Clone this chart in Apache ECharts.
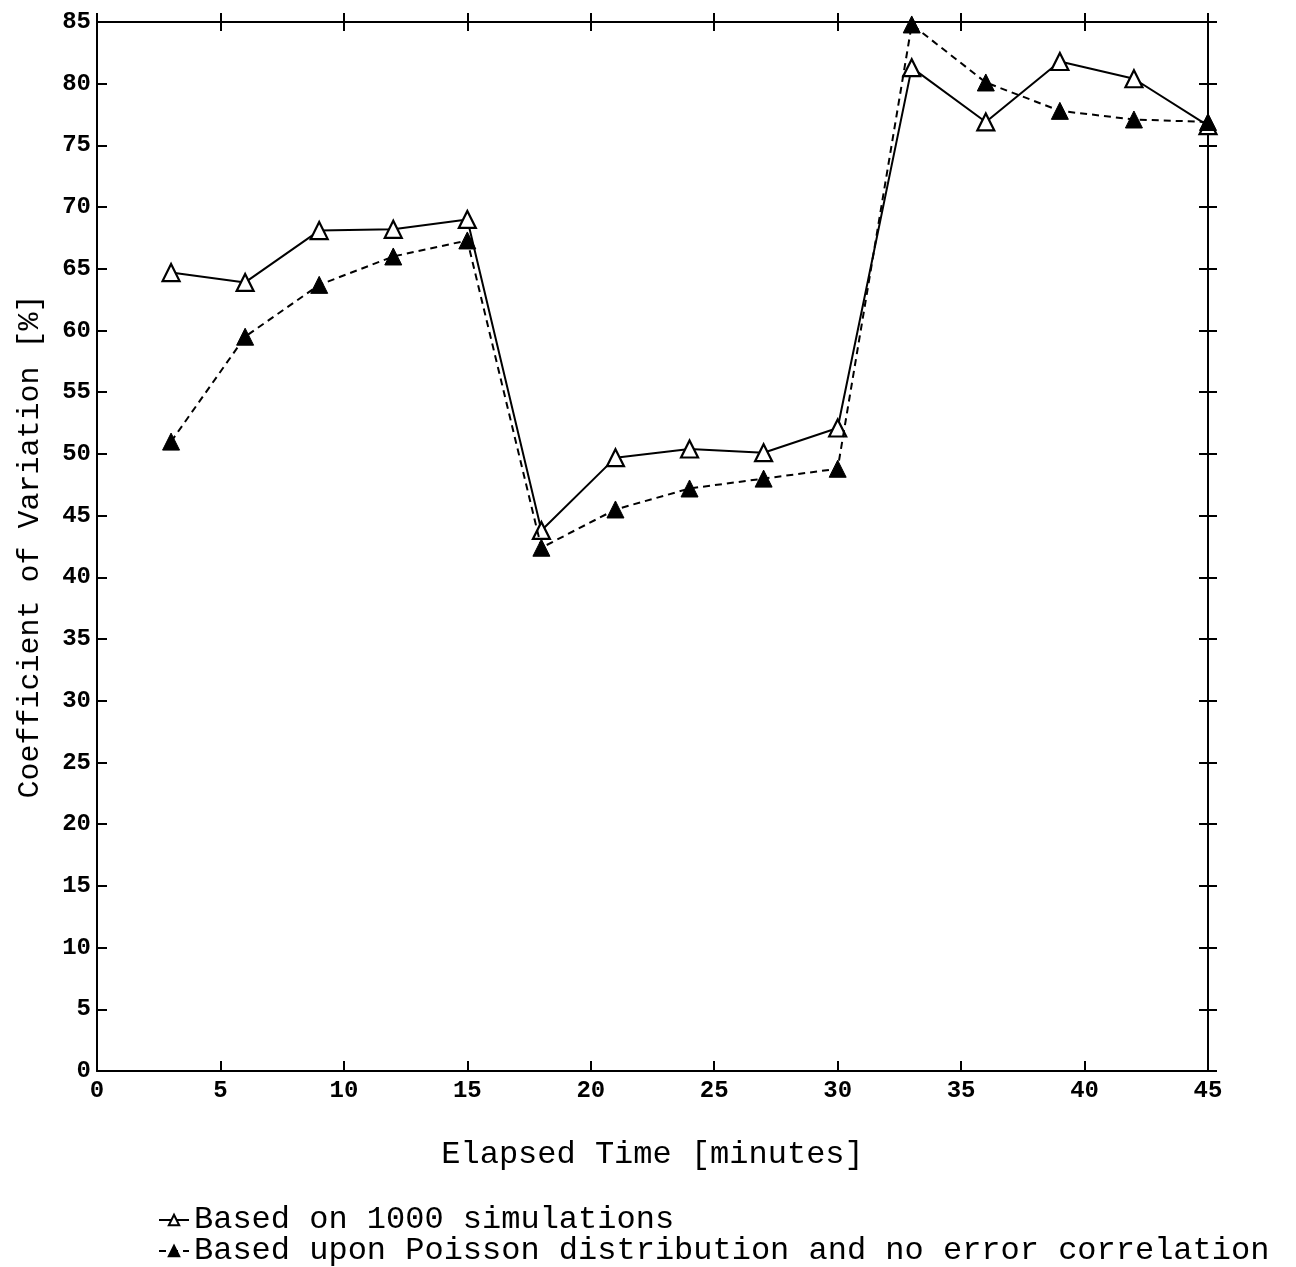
<!DOCTYPE html>
<html><head><meta charset="utf-8">
<script src="https://cdn.jsdelivr.net/npm/echarts@6/dist/echarts.min.js"></script>
<style>html,body{margin:0;padding:0;background:#fff}#c{width:1296px;height:1267px}</style>
</head><body><div id="c"></div>
<script>
const times = [3,6,9,12,15,18,21,24,27,30,33,36,39,42,45];
const simValues = [64.7,63.9,68.1,68.2,69.0,43.8,49.7,50.4,50.1,52.1,81.3,76.9,81.8,80.4,76.6];
const poissonValues = [51.0,59.5,63.7,66.0,67.3,42.4,45.5,47.2,48.0,48.8,84.8,80.1,77.8,77.1,76.9];
const seriesNames = ['Based on 1000 simulations','Based upon Poisson distribution and no error correlation'];
const xTitle = 'Elapsed Time [minutes]';
const yTitle = 'Coefficient of Variation [%]';

const FONT = '"Liberation Mono","Courier New",monospace';
const grid = {left:97, right:88, top:22, bottom:196};
const axLine = {show:true, onZero:false, lineStyle:{color:'#000', width:2}};
function xAx(pos, showLabels, inside, len, extra){
  return Object.assign({type:'value', min:0, max:45, interval:5, position:pos,
    axisLine:axLine, axisTick:{show:true, inside:inside, length:len, lineStyle:{color:'#000',width:2}},
    axisLabel:{show:showLabels, color:'#000', fontFamily:FONT, fontWeight:'bold', fontSize:24, margin:8},
    splitLine:{show:false}}, extra||{});
}
function yAx(pos, showLabels, inside, len, extra){
  return Object.assign({type:'value', min:0, max:85, interval:5, position:pos,
    axisLine:axLine, axisTick:{show:true, inside:inside, length:len, lineStyle:{color:'#000',width:2}},
    axisLabel:{show:showLabels, color:'#000', fontFamily:FONT, fontWeight:'bold', fontSize:24, margin:6},
    splitLine:{show:false}}, extra||{});
}
function leg(name, top){
  return {orient:'horizontal', left:158, top:top, padding:0, itemWidth:30, itemHeight:13,
    textStyle:{color:'#000', fontFamily:FONT, fontSize:32, lineHeight:32},
    data:[name]};
}
const chart = echarts.init(document.getElementById('c'));
chart.setOption({
  animation:false,
  backgroundColor:'#fff',
  grid:grid,
  xAxis:[
    xAx('bottom', true, true, 10, {name:xTitle, nameLocation:'middle', nameGap:68,
      nameTextStyle:{color:'#000', fontFamily:FONT, fontSize:32}}),
    xAx('top', false, true, 9),
    xAx('top', false, false, 9)
  ],
  yAxis:[
    yAx('left', true, true, 10, {name:yTitle, nameLocation:'middle', nameGap:52,
      nameTextStyle:{color:'#000', fontFamily:FONT, fontSize:30}}),
    yAx('right', false, true, 9),
    yAx('right', false, false, 9)
  ],
  legend:[ leg(seriesNames[0], 1204), leg(seriesNames[1], 1235) ],
  series:[
    {name:seriesNames[0], type:'line', data:times.map((t,i)=>[t,simValues[i]]),
      xAxisIndex:0, yAxisIndex:0, clip:false,
      symbol:'triangle', symbolSize:17, z:3,
      lineStyle:{color:'#000', width:2},
      itemStyle:{color:'#fff', borderColor:'#000', borderWidth:2.2}},
    {name:seriesNames[1], type:'line', data:times.map((t,i)=>[t,poissonValues[i]]),
      xAxisIndex:0, yAxisIndex:0, clip:false,
      symbol:'triangle', symbolSize:17, z:4,
      lineStyle:{color:'#000', width:2, type:[7,5]},
      itemStyle:{color:'#000', borderColor:'#000', borderWidth:1}}
  ]
});
</script></body></html>
